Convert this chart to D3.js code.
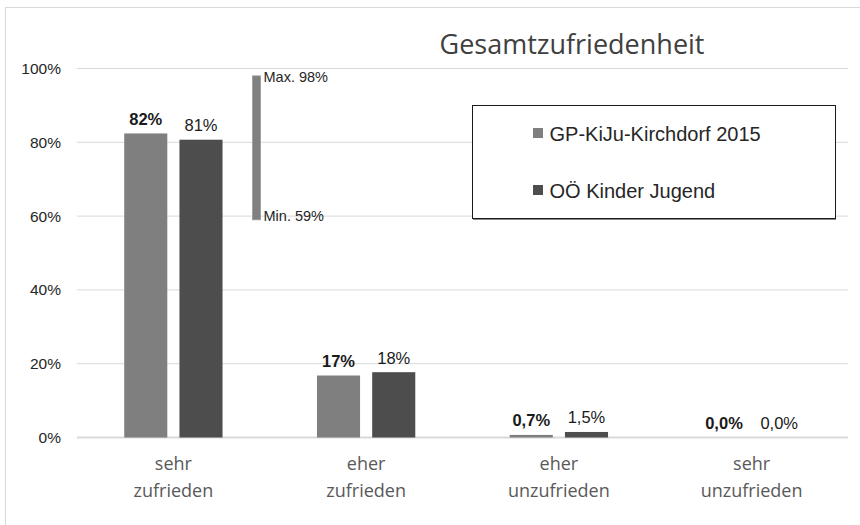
<!DOCTYPE html>
<html>
<head>
<meta charset="utf-8">
<script src="https://cdn.jsdelivr.net/npm/d3@7"></script>
<style>
  body { margin: 0; background: #fff; }
  text { font-family: "Liberation Sans", Arial, sans-serif; }
</style>
</head>
<body>
<div id="vis"></div>
<script>
// data
var categories = [["sehr", "zufrieden"], ["eher", "zufrieden"], ["eher", "unzufrieden"], ["sehr", "unzufrieden"]];
var seriesNames = ["GP-KiJu-Kirchdorf 2015", "OÖ Kinder Jugend"];
var gpValues = [82.4, 16.8, 0.7, 0.0];
var ooeValues = [80.7, 17.7, 1.5, 0.0];
var rangeMax = 98, rangeMin = 59;
var yTicks = [0, 20, 40, 60, 80, 100];
var colors = ["#7f7f7f", "#4d4d4d"];

var width = 860, height = 525;
var svg = d3.select("#vis").append("svg")
    .attr("width", width)
    .attr("height", height);

// outer frame (top + left visible)
svg.append("rect")
    .attr("x", 5.5).attr("y", 7.5)
    .attr("width", 870).attr("height", 540)
    .attr("fill", "none")
    .attr("stroke", "#d9d9d9");

var keys = categories.map(function(c){ return c.join(" "); });

var x0 = d3.scaleBand()
    .domain(keys)
    .range([77, 848])
    .paddingInner(0.49)
    .paddingOuter(0.245);

var x1 = d3.scaleBand()
    .domain(seriesNames)
    .range([0, x0.bandwidth()])
    .paddingInner(0.22);

var y = d3.scaleLinear()
    .domain([0, 100])
    .range([437.5, 68.5]);

//gridlines
svg.append("g").selectAll("line")
    .data(yTicks)
    .enter().append("line")
    .attr("x1", 77).attr("x2", 848)
    .attr("y1", function(d){ return y(d); })
    .attr("y2", function(d){ return y(d); })
    .attr("stroke", "#d9d9d9")
    .attr("stroke-width", function(d){ return d == 0 ? 2 : 1; });

//y axis labels
var yAxis = svg.append("g")
    .attr("transform", "translate(61,0)")
    .call(d3.axisLeft(y).tickValues(yTicks).tickSize(0).tickPadding(0)
        .tickFormat(function(d){ return d + "%"; }));
yAxis.select(".domain").remove();
yAxis.selectAll("text")
    .attr("font-size", "15.5px")
    .attr("font-family", "'Liberation Sans', Arial, sans-serif")
    .attr("fill", "#262626");

//title
svg.append("text")
    .attr("x", 572).attr("y", 54)
    .attr("text-anchor", "middle")
    .attr("font-size", "27px")
    .attr("fill", "#404040")
    .style("font-family", "'Open Sans', sans-serif")
    .text("Gesamtzufriedenheit");

var rows = keys.map(function(k, i){
    return {key: k, vals: [gpValues[i], ooeValues[i]]};
});

function fmt(v){
    if (v >= 10) return Math.round(v) + "%";
    return v.toFixed(1).replace(".", ",") + "%";
}

var groups = svg.append("g").selectAll("g")
    .data(rows)
    .enter().append("g")
    .attr("transform", function(d){ return "translate(" + x0(d.key) + ",0)"; });

groups.selectAll("rect")
    .data(function(d){ return d.vals.map(function(v, j){ return {s: seriesNames[j], v: v, j: j}; }); })
    .enter().append("rect")
    .attr("x", function(d){ return x1(d.s); })
    .attr("y", function(d){ return y(d.v); })
    .attr("width", x1.bandwidth())
    .attr("height", function(d){ return y(0) - y(d.v); })
    .attr("fill", function(d){ return colors[d.j]; });

groups.selectAll("text")
    .data(function(d){ return d.vals.map(function(v, j){ return {s: seriesNames[j], v: v, j: j}; }); })
    .enter().append("text")
    .attr("x", function(d){ return x1(d.s) + x1.bandwidth() / 2; })
    .attr("y", function(d){ return y(d.v) - 8.5; })
    .attr("text-anchor", "middle")
    .attr("font-size", "16.5px")
    .attr("font-weight", function(d){ return d.j == 0 ? "bold" : "normal"; })
    .attr("fill", "#1a1a1a")
    .text(function(d){ return fmt(d.v); });

//category labels, two lines each
var cat = svg.append("g").selectAll("text")
    .data(categories)
    .enter().append("text")
    .attr("text-anchor", "middle")
    .attr("font-size", "18px")
    .attr("fill", "#595959")
    .style("font-family", "'Open Sans', sans-serif")
    .attr("transform", function(d, i){ return "translate(" + (x0(keys[i]) + x0.bandwidth() / 2) + ",470)"; });
cat.append("tspan").attr("x", 0).attr("y", 0).text(function(d){ return d[0]; });
cat.append("tspan").attr("x", 0).attr("y", 26.7).text(function(d){ return d[1]; });

//min-max range marker next to first group
var rx = x0(keys[0]) + x0.bandwidth() + 30;
svg.append("rect")
    .attr("x", rx).attr("y", y(rangeMax))
    .attr("width", 8)
    .attr("height", y(rangeMin) - y(rangeMax))
    .attr("fill", "#808080")
    .attr("stroke", "#9a9a9a")
    .attr("stroke-width", 0.8);
svg.append("text")
    .attr("x", rx + 11).attr("y", y(rangeMax) + 2)
    .attr("dominant-baseline", "middle")
    .attr("font-size", "14.5px").attr("fill", "#262626")
    .text("Max. " + rangeMax + "%");
svg.append("text")
    .attr("x", rx + 11).attr("y", y(rangeMin) - 3)
    .attr("dominant-baseline", "middle")
    .attr("font-size", "14.5px").attr("fill", "#262626")
    .text("Min. " + rangeMin + "%");

//legend
var legend = svg.append("g");
legend.append("rect")
    .attr("x", 472.5).attr("y", 105.5)
    .attr("width", 363).attr("height", 113)
    .attr("fill", "#fff")
    .attr("stroke", "#1a1a1a")
    .attr("stroke-width", 1);
legend.append("line")
    .attr("x1", 473).attr("x2", 836)
    .attr("y1", 219.5).attr("y2", 219.5)
    .attr("stroke", "#888").attr("stroke-width", 1);
var li = legend.selectAll(".item")
    .data(seriesNames)
    .enter().append("g")
    .attr("class", "item")
    .attr("transform", function(d, i){ return "translate(533," + (133 + i * 57) + ")"; });
li.append("rect")
    .attr("x", 0).attr("y", -5)
    .attr("width", 10).attr("height", 10)
    .attr("fill", function(d, i){ return colors[i]; });
li.append("text")
    .attr("x", 16.5).attr("y", 7.5)
    .attr("font-size", "20px")
    .attr("fill", "#262626")
    .text(function(d){ return d; });
</script>
</body>
</html>
